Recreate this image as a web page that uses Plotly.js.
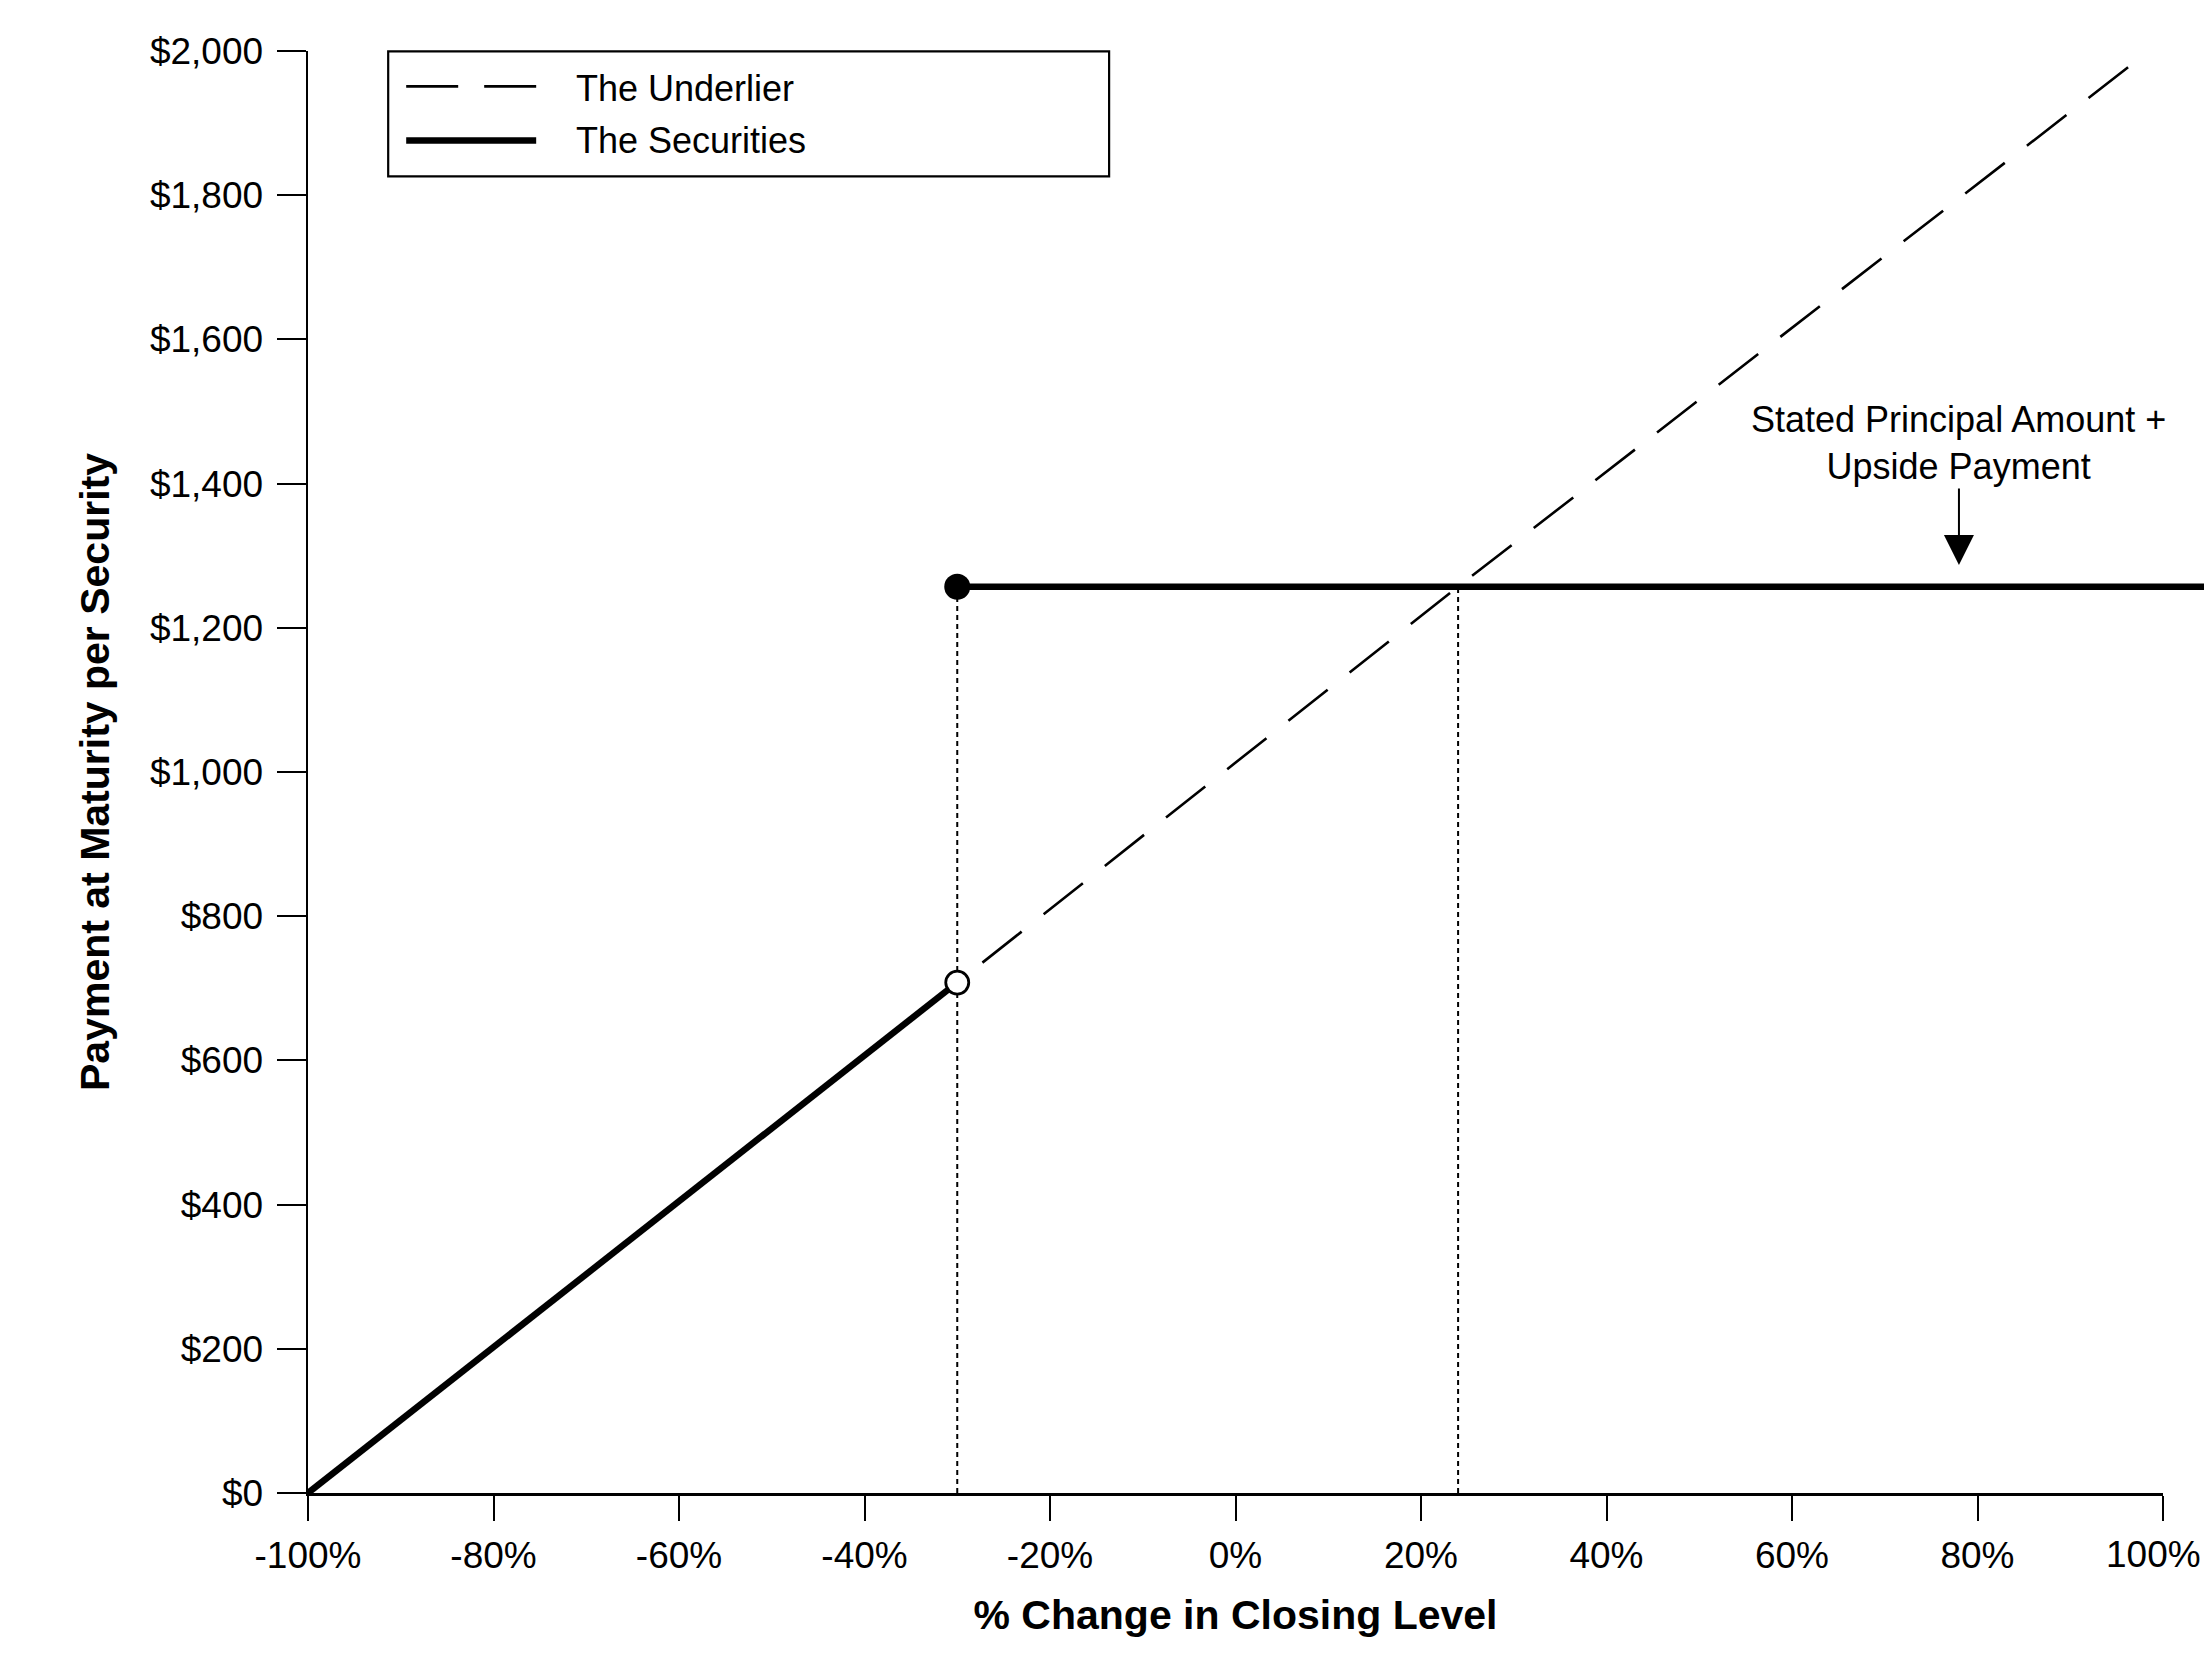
<!DOCTYPE html>
<html>
<head>
<meta charset="utf-8">
<script src="https://cdn.plot.ly/plotly-3.0.1.min.js"></script>
<style>
  html, body { margin: 0; padding: 0; background: #ffffff; }
  #chart { width: 2204px; height: 1664px; }
</style>
</head>
<body>
<div id="chart"></div>
<script>
// ---------------- data ----------------
const xTickValues = [-100, -80, -60, -40, -20, 0, 20, 40, 60, 80, 100];
const xTickLabels = ['-100%', '-80%', '-60%', '-40%', '-20%', '0%', '20%', '40%', '60%', '80%', '100%'];
const yTickValues = [0, 200, 400, 600, 800, 1000, 1200, 1400, 1600, 1800, 2000];
const yTickLabels = ['$0', '$200', '$400', '$600', '$800', '$1,000', '$1,200', '$1,400', '$1,600', '$1,800', '$2,000'];

// The Underlier (dashed)
const underlierX = [-100, -30, 24, 98.5];
const underlierY = [0, 708, 1257, 2000];

// The Securities: below the trigger level
const securitiesLowX = [-100, -30];
const securitiesLowY = [0, 708];
// The Securities: stated principal amount + upside payment (runs past the axis end)
const securitiesCapX = [-30, 110];
const securitiesCapY = [1257, 1257];

// Reference levels for the dotted guides
const triggerLevel = -30;
const crossoverLevel = 24;
const capPayment = 1257;

const seriesNames = ['The Underlier', 'The Securities'];
const annotationText = 'Stated Principal Amount +<br>Upside Payment';
const annotationX = 78;

// ---------------- layout geometry ----------------
const W = 2204, H = 1664;
const L = 307.8, R = W, T = 50.6, B = 1492.7;
const AXIS_END_PX = 2163;               // pixel where the 100% tick sits
const dX = (AXIS_END_PX - L) / (R - L); // domain fraction of the main x axis
const xRange = [-100, 100];
const x2Range = [-100, -100 + 200 / dX]; // same scale, reaching the page edge
const yRange = [0, 2000];
const px2x = p => (p - L) / (R - L);
const py2y = p => (B - p) / (B - T);

const FONT = 'Liberation Sans, Arial, Helvetica, sans-serif';

// the last tick label sits against the page edge, so it is placed as an annotation
const lastIdx = xTickLabels.length - 1;
const axisTickText = xTickLabels.map((t, i) => (i === lastIdx ? '' : t));

const traces = [
  { // dotted guide at trigger level
    x: [triggerLevel, triggerLevel], y: [0, capPayment],
    mode: 'lines', line: { color: '#000', width: 2, dash: '5px,4px' },
    showlegend: false, hoverinfo: 'skip'
  },
  { // dotted guide at crossover
    x: [crossoverLevel, crossoverLevel], y: [0, capPayment],
    mode: 'lines', line: { color: '#000', width: 2, dash: '5px,4px' },
    showlegend: false, hoverinfo: 'skip'
  },
  {
    name: seriesNames[0],
    x: underlierX, y: underlierY,
    mode: 'lines', line: { color: '#000', width: 2.6, dash: '50px,28px' },
    showlegend: false
  },
  {
    name: seriesNames[1],
    x: securitiesLowX, y: securitiesLowY,
    mode: 'lines', line: { color: '#000', width: 6.5 },
    showlegend: false
  },
  { // open circle at the end of the low segment
    x: [securitiesLowX[1]], y: [securitiesLowY[1]],
    mode: 'markers', marker: { symbol: 'circle', size: 23, color: '#fff', line: { width: 2.8, color: '#000' } },
    showlegend: false, cliponaxis: false
  },
  {
    name: seriesNames[1],
    x: securitiesCapX, y: securitiesCapY, xaxis: 'x2', yaxis: 'y',
    mode: 'lines', line: { color: '#000', width: 6.5 },
    showlegend: false
  },
  { // filled circle at the cap start
    x: [securitiesCapX[0]], y: [securitiesCapY[0]], xaxis: 'x2', yaxis: 'y',
    mode: 'markers', marker: { symbol: 'circle', size: 26, color: '#000', line: { width: 0 } },
    showlegend: false, cliponaxis: false
  }
];

const shapes = [
  // legend box
  { type: 'rect', xref: 'paper', yref: 'paper',
    x0: px2x(388), x1: px2x(1109), y0: py2y(176), y1: py2y(51),
    line: { color: '#000', width: 2.2 }, fillcolor: 'rgba(255,255,255,1)', layer: 'above' },
  // legend sample: underlier
  { type: 'line', xref: 'paper', yref: 'paper',
    x0: px2x(406), x1: px2x(536), y0: py2y(86), y1: py2y(86),
    line: { color: '#000', width: 2.6, dash: '52px,26px' }, layer: 'above' },
  // legend sample: securities
  { type: 'line', xref: 'paper', yref: 'paper',
    x0: px2x(406), x1: px2x(536), y0: py2y(140), y1: py2y(140),
    line: { color: '#000', width: 6.5 }, layer: 'above' }
];

const annotations = [
  { xref: 'paper', yref: 'paper', x: px2x(574), y: py2y(88), xanchor: 'left', yanchor: 'middle',
    text: seriesNames[0], showarrow: false, font: { family: FONT, size: 36, color: '#000' } },
  { xref: 'paper', yref: 'paper', x: px2x(574), y: py2y(140), xanchor: 'left', yanchor: 'middle',
    text: seriesNames[1], showarrow: false, font: { family: FONT, size: 36, color: '#000' } },
  { xref: 'x', yref: 'y', x: annotationX, y: capPayment + 30,
    text: annotationText, showarrow: true, ax: 0, ay: -122,
    arrowhead: 2, arrowsize: 3, arrowwidth: 2, arrowcolor: '#000',
    font: { family: FONT, size: 36, color: '#000' }, align: 'center' },
  { // last x tick label, nudged inside the page edge
    xref: 'x', yref: 'paper', x: xTickValues[lastIdx], xshift: -10,
    y: py2y(1554), xanchor: 'center', yanchor: 'middle',
    text: xTickLabels[lastIdx], showarrow: false,
    font: { family: FONT, size: 37, color: '#000' } }
];

const layout = {
  width: W, height: H,
  margin: { l: L, r: W - R, t: T, b: H - B, pad: 0 },
  paper_bgcolor: '#fff', plot_bgcolor: 'rgba(0,0,0,0)',
  font: { family: FONT, color: '#000', size: 37 },
  showlegend: false,
  xaxis: {
    domain: [0, dX], anchor: 'y',
    range: xRange, showgrid: false, zeroline: false,
    showline: true, linewidth: 3, linecolor: '#000',
    tickmode: 'array', tickvals: xTickValues, ticktext: axisTickText,
    ticks: 'outside', ticklen: 25, tickwidth: 2, tickcolor: '#000',
    ticklabelstandoff: 3,
    tickfont: { family: FONT, size: 37, color: '#000' },
    title: { text: '% Change in Closing Level', standoff: 25,
             font: { family: FONT, size: 41, color: '#000', weight: 'bold' } },
    automargin: false, fixedrange: true
  },
  xaxis2: {
    domain: [0, 1], anchor: 'y', range: x2Range, visible: false, fixedrange: true
  },
  yaxis: {
    anchor: 'x',
    range: yRange, showgrid: false, zeroline: false,
    showline: true, linewidth: 2.5, linecolor: '#000',
    tickmode: 'array', tickvals: yTickValues, ticktext: yTickLabels,
    ticks: 'outside', ticklen: 29, tickwidth: 2, tickcolor: '#000',
    ticklabelstandoff: 6,
    tickfont: { family: FONT, size: 37, color: '#000' },
    title: { text: 'Payment at Maturity per Security', standoff: 28,
             font: { family: FONT, size: 41, color: '#000', weight: 'bold' } },
    automargin: false, fixedrange: true
  },
  shapes: shapes,
  annotations: annotations
};

Plotly.newPlot('chart', traces, layout, { displayModeBar: false, staticPlot: true });
</script>
</body>
</html>
